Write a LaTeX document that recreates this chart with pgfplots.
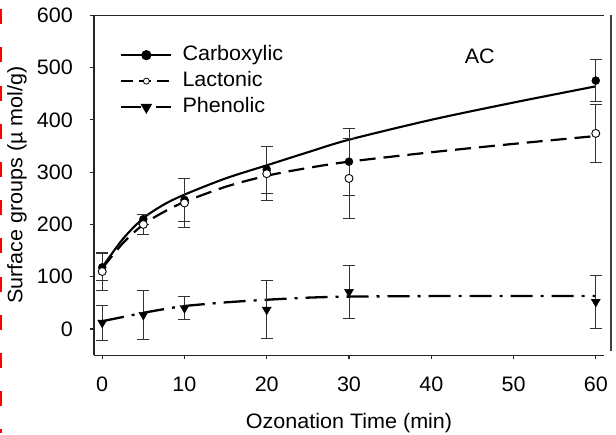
\documentclass[border=0pt]{standalone}
\usepackage{pgfplots}
\pgfplotsset{compat=1.18}
\usepackage{pgfplotstable}
\usepackage{fontspec}
\setmainfont[FakeStretch=1.03]{Liberation Sans}

\pgfplotstableread{
x y e
0 118 26
5 210 10
10 247 41
20 305 45
30 320 64
60 475 40
}\carb
\pgfplotstableread{
x y e
0 110 37
5 200 19
10 241 46
20 297 52
30 288 77
60 374 55
}\lact
\pgfplotstableread{
x y e
0 12 34
5 27 47
10 40 22
20 37 55
30 71 50
60 52 50
}\phen

\begin{document}
\begin{tikzpicture}
\path (0bp,0bp) rectangle (616bp,432bp);
\draw[red, line width=2.4bp, dash pattern=on 15bp off 23.2bp, dash phase=30.2bp] (1.2bp,432bp) -- (1.2bp,0bp);
\begin{axis}[
  at={(94bp,78bp)}, anchor=south west,
  scale only axis, width=510bp, height=340bp,
  xmin=-1, xmax=61, ymin=-50, ymax=600,
  xtick={0,10,...,60}, ytick={0,100,...,600},
  axis x line*=bottom, axis y line*=left,
  axis line style={-, line width=1.3bp, black!85},
  tick style={line width=1.1bp, black!85},
  tick align=outside, major tick length=4bp,
  font=\fontsize{21}{25}\selectfont,
  /pgf/number format/assume math mode=true,
  xticklabel style={anchor=north, inner sep=0pt, yshift=-17bp},
  yticklabel style={anchor=east, inner sep=0pt, xshift=-17bp},
  xlabel={Ozonation Time (min)},
  ylabel={Surface groups (\textmu\ mol/g)},
  xlabel style={at={(axis description cs:0.5,0)}, anchor=base, yshift=-73bp, inner sep=0pt},
  ylabel style={at={(axis description cs:-0.151,0.5)}, anchor=center, inner sep=0pt},
  legend cell align=left,
  legend style={draw=none, fill=none, at={(0.051,0.911)}, anchor=north west,
    inner sep=0pt, row sep=7bp, column sep=10bp,
    nodes={inner sep=0pt, text height=15bp, text depth=4bp}},
  legend image code/.code={\draw[mark repeat=2, mark phase=2, #1] plot coordinates {(0bp,0bp) (25bp,0bp) (50bp,0bp)};},
  error bars/y dir=both, error bars/y explicit,
  error bars/error bar style={line width=0.9bp, black!80},
  error bars/error mark options={line width=0.9bp, black!80, mark size=6bp, rotate=90},
]
% fitted curves
\addplot[forget plot, smooth, line width=2.1bp, black] coordinates {
(0,118) (2.5,172) (5,212) (7.5,238) (10,257) (15,288) (20,313) (25,338) (30,362) (40,400) (50,433) (60,464)};
\addplot[forget plot, smooth, line width=2.2bp, black, dash pattern=on 16bp off 8bp] coordinates {
(0,116) (2.5,164) (5,200) (7.5,224) (10,243) (15,272) (20,293) (25,308) (30,320) (40,338) (50,354) (60,369)};
\addplot[forget plot, smooth, line width=2.3bp, black, dash pattern=on 22bp off 8bp on 3bp off 8bp] coordinates {
(0,15) (2.5,23) (5,31) (7.5,38) (10,44) (15,51) (20,56) (25,60) (30,62) (40,63) (50,63) (60,63)};
% data points with error bars
\addplot[forget plot, only marks, mark=*, mark size=4bp, black] table[x=x, y=y, y error=e] {\carb};
\addplot[forget plot, only marks, mark=*, mark size=4bp, mark options={fill=white, draw=black, line width=0.9bp}] table[x=x, y=y, y error=e] {\lact};
\addplot[forget plot, only marks, mark=triangle*, mark size=5.2bp, mark options={rotate=180, fill=black}, black] table[x=x, y=y, y error=e] {\phen};
\addlegendimage{line width=2.1bp, black, mark=*, mark size=4bp}
\addlegendentry{Carboxylic}
\addlegendimage{line width=2.2bp, black, dash pattern=on 12bp off 6bp, mark=*, mark size=3bp, mark options={solid, fill=white, line width=0.8bp}}
\addlegendentry{Lactonic}
\addlegendimage{line width=2.3bp, black, dash pattern=on 20bp off 6bp on 3bp off 6bp, mark=triangle*, mark size=4.5bp, mark options={solid, rotate=180}}
\addlegendentry{Phenolic}
\node[font=\fontsize{21}{25}\selectfont] at (axis cs:45.9,522) {AC};
\end{axis}
\draw[line width=1.3bp, black!85] (current axis.north west) -- (current axis.north east);
\draw[line width=1.1bp, black!75] ([xshift=7bp]current axis.north east) -- ([xshift=7bp,yshift=4bp]current axis.south east);
\end{tikzpicture}
\end{document}
